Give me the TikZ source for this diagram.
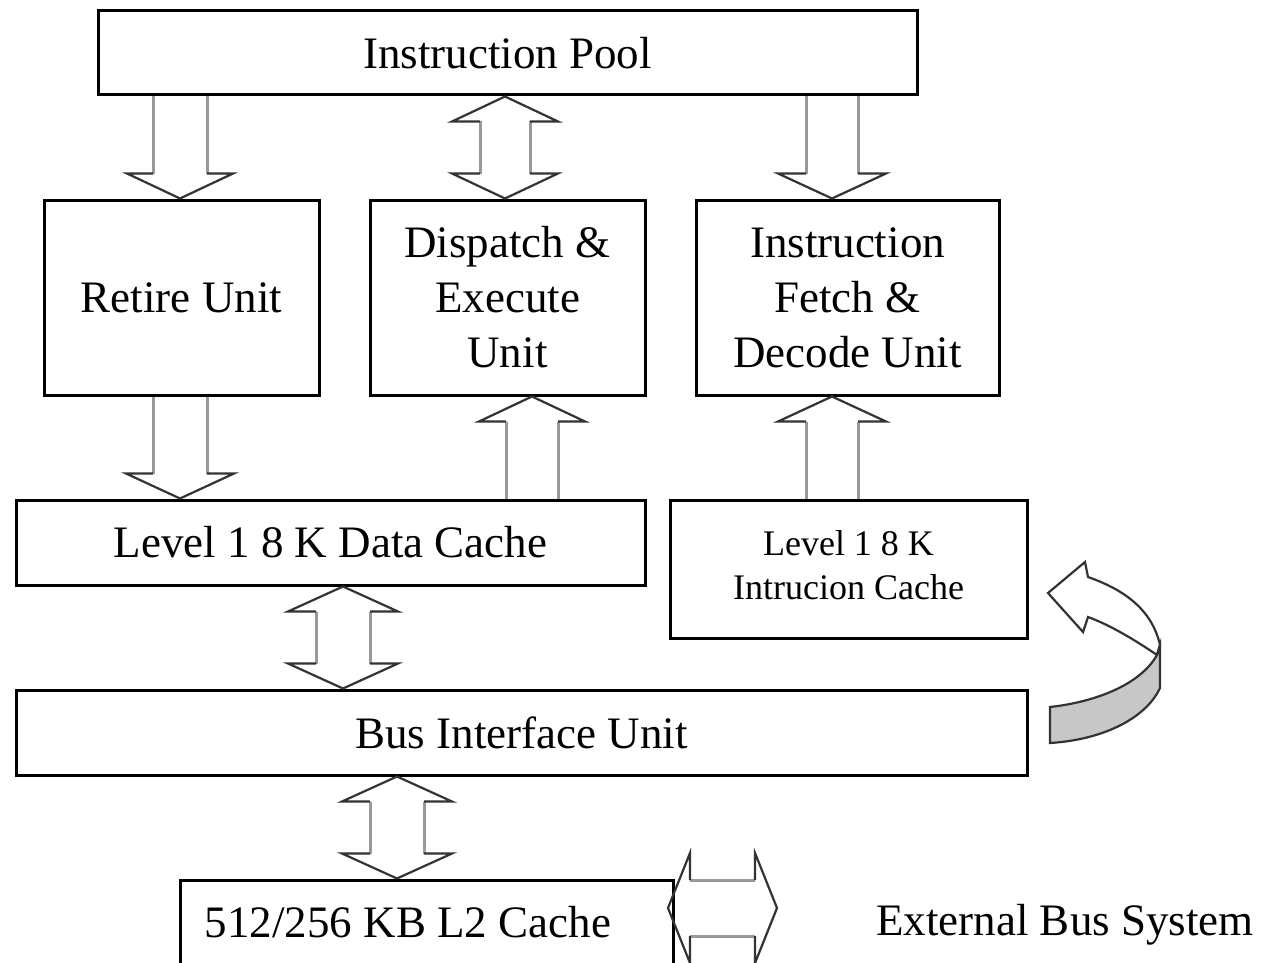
\documentclass[tikz,border=0pt]{standalone}
\usepackage{fontspec}
\setmainfont{Liberation Serif}
\usetikzlibrary{calc}

\tikzset{
  unit/.style={draw, line width=3pt, inner sep=0pt, align=center,
               font=\fontsize{45}{55}\selectfont},
  smallunit/.style={unit, font=\fontsize{36}{44}\selectfont},
  txt/.style={inner sep=0pt, font=\fontsize{45}{55}\selectfont},
  shaftline/.style={draw=black!40, line width=3pt},
  headline/.style={draw=black!80, line width=2.2pt, line join=miter},
}

% head length of the block arrows
\def\hlen{25}
% vertical shaft: start point, offset, end point, offset, half width
\newcommand\vshaft[5]{%
  \draw[shaftline] ($(#1)+(-#5,#2)$) -- ($(#3)+(-#5,#4)$)
                   ($(#1)+(#5,#2)$) -- ($(#3)+(#5,#4)$);}
% downward head: tip, shaft half width, head half width
\newcommand\tipdown[3]{%
  \draw[headline] ($(#1)+(-#2,-\hlen)$) -- ($(#1)+(-#3,-\hlen)$) -- (#1)
                  -- ($(#1)+(#3,-\hlen)$) -- ($(#1)+(#2,-\hlen)$);}
% upward head: tip, shaft half width, head half width
\newcommand\tipup[3]{%
  \draw[headline] ($(#1)+(-#2,\hlen)$) -- ($(#1)+(-#3,\hlen)$) -- (#1)
                  -- ($(#1)+(#3,\hlen)$) -- ($(#1)+(#2,\hlen)$);}

\begin{document}
\begin{tikzpicture}[x=1pt,y=-1pt]
\useasboundingbox (0,0) rectangle (1268,963);
\clip (0,0) rectangle (1268,963);
\fill[white] (0,0) rectangle (1268,963);

% units
\node[unit, minimum width=819, minimum height=84] (pool) at (507.5,53) {Instruction Pool};
\node[unit, minimum width=275, minimum height=195] (retire) at (181.5,297.5) {Retire Unit};
\node[unit, minimum width=275, minimum height=195] (dispatch) at (507.5,297.5) {Dispatch \&\\Execute\\Unit};
\node[unit, minimum width=303, minimum height=195] (fetch) at (847.5,297.5) {Instruction\\Fetch \&\\Decode Unit};
\node[unit, minimum width=629, minimum height=85] (dcache) at (330.5,542.5) {Level 1 8 K Data Cache};
\node[smallunit, minimum width=357, minimum height=138] (icache) at (848.5,569)
  {\raisebox{7pt}{\begin{tabular}{@{}c@{}}Level 1 8 K\\Intrucion Cache\end{tabular}}};
\node[unit, minimum width=1011, minimum height=85] (biu) at (521.5,732.5) {Bus Interface Unit};
\node[unit, minimum width=493, minimum height=120] (l2) at (426.5,940) {};
\node[txt] (l2text) at (408,922) {512/256 KB L2 Cache};
\node[txt] (ext) at (1065,925) {External Bus System};

% arrow axes
\coordinate (c1) at (180,0);
\coordinate (c2) at (505,0);
\coordinate (c3) at (532,0);
\coordinate (c4) at (832,0);
\coordinate (c5) at (343,0);
\coordinate (c6) at (397,0);

% pool -> retire
\vshaft{c1|-pool.south}{0}{c1|-retire.north}{-\hlen}{27}
\tipdown{c1|-retire.north}{27}{53}
% pool <-> dispatch
\vshaft{c2|-pool.south}{\hlen}{c2|-dispatch.north}{-\hlen}{25}
\tipup{c2|-pool.south}{25}{53}
\tipdown{c2|-dispatch.north}{25}{53}
% pool -> fetch
\vshaft{c4|-pool.south}{0}{c4|-fetch.north}{-\hlen}{26}
\tipdown{c4|-fetch.north}{26}{54}
% retire -> data cache
\vshaft{c1|-retire.south}{0}{c1|-dcache.north}{-\hlen}{27}
\tipdown{c1|-dcache.north}{27}{54}
% data cache -> dispatch
\vshaft{c3|-dispatch.south}{\hlen}{c3|-dcache.north}{0}{26}
\tipup{c3|-dispatch.south}{26}{53}
% instruction cache -> fetch
\vshaft{c4|-fetch.south}{\hlen}{c4|-icache.north}{0}{26}
\tipup{c4|-fetch.south}{26}{54}
% data cache <-> bus interface
\vshaft{c5|-dcache.south}{\hlen}{c5|-biu.north}{-\hlen}{27}
\tipup{c5|-dcache.south}{27}{55}
\tipdown{c5|-biu.north}{27}{55}
% bus interface <-> L2
\vshaft{c6|-biu.south}{\hlen}{c6|-l2.north}{-\hlen}{27}
\tipup{c6|-biu.south}{27}{55}
\tipdown{c6|-l2.north}{27}{55}

% L2 <-> external bus
\coordinate (hl) at (668,908);
\coordinate (hr) at (777,908);
\draw[shaftline] ($(hl)+(22,-28)$) -- ($(hr)+(-22,-28)$)
                 ($(hl)+(22,28)$) -- ($(hr)+(-22,28)$);
\draw[headline] ($(hl)+(22,-28)$) -- ($(hl)+(22,-55)$) -- (hl)
                -- ($(hl)+(22,55)$) -- ($(hl)+(22,28)$);
\draw[headline] ($(hr)+(-22,-28)$) -- ($(hr)+(-22,-55)$) -- (hr)
                -- ($(hr)+(-22,55)$) -- ($(hr)+(-22,28)$);

% curved arrow beside the caches
\draw[headline, fill=white] (1048,593) -- (1085,562) -- (1088,577)
  .. controls (1125,590) and (1152,610) .. (1160,645) -- (1157,655)
  .. controls (1135,640) and (1110,625) .. (1088,617) -- (1083,632) -- cycle;
\draw[headline, fill=black!22] (1050,707)
  .. controls (1095,702) and (1140,685) .. (1157,655) -- (1160,645)
  -- (1160,688) .. controls (1145,720) and (1100,740) .. (1050,743) -- cycle;
\end{tikzpicture}
\end{document}
